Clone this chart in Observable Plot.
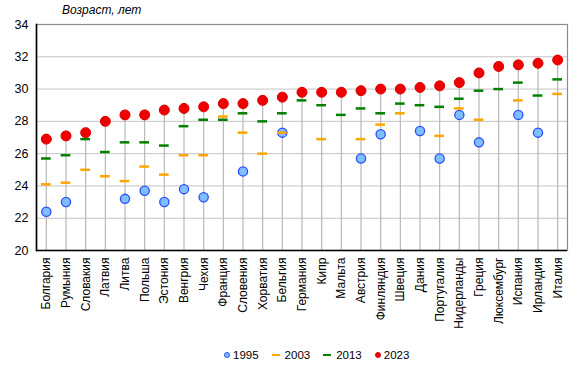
<!DOCTYPE html>
<html><head><meta charset="utf-8">
<script src="https://cdn.jsdelivr.net/npm/d3@7"></script>
<script src="https://cdn.jsdelivr.net/npm/@observablehq/plot@0.6"></script>
<style>
body{margin:0;background:#fff;font-family:"Liberation Sans",Arial,sans-serif;}
#wrap{position:relative;width:580px;height:370px;}
#title{position:absolute;left:62px;top:3px;font-size:12px;font-style:italic;color:#000;}
#legend{position:absolute;top:349px;left:224px;display:flex;align-items:center;font-size:11.5px;color:#000;}
#legend .it{display:flex;align-items:center;margin-right:13px;}
#legend .c{width:6px;height:6px;border-radius:50%;margin-right:3px;box-sizing:border-box;}
#legend .d{width:8px;height:2.5px;margin-right:5px;}
</style></head>
<body><div id="wrap"><div id="chart"></div><div id="title">Возраст, лет</div>
<div id="legend">
<div class="it"><div class="c" style="background:#7fbfff;border:1.5px solid #2a4cff"></div>1995</div>
<div class="it"><div class="d" style="background:#ffa500"></div>2003</div>
<div class="it"><div class="d" style="background:#008000"></div>2013</div>
<div class="it"><div class="c" style="background:#ee0000;border:1px solid #e00000"></div>2023</div>
</div></div>
<script>
const countries = ["Болгария","Румыния","Словакия","Латвия","Литва","Польша","Эстония","Венгрия","Чехия","Франция","Словения","Хорватия","Бельгия","Германия","Кипр","Мальта","Австрия","Финляндия","Швеция","Дания","Португалия","Нидерланды","Греция","Люксембург","Испания","Ирландия","Италия"];
const v1995 = [22.4,23.0,null,null,23.2,23.7,23.0,23.8,23.3,null,24.9,null,27.3,null,null,null,25.7,27.2,null,27.4,25.7,28.4,26.7,null,28.4,27.3,null];
const v2003 = [24.1,24.2,25.0,24.6,24.3,25.2,24.7,25.9,25.9,28.3,27.3,26.0,27.3,null,26.9,null,26.9,27.8,28.5,null,27.1,28.8,28.1,null,29.3,null,29.7];
const v2013 = [25.7,25.9,26.9,26.1,26.7,26.7,26.5,27.7,28.1,28.1,28.5,28.0,28.5,29.3,29.0,28.4,28.8,28.5,29.1,29.0,28.9,29.4,29.9,30.0,30.4,29.6,30.6];
const v2023 = [26.9,27.1,27.3,28.0,28.4,28.4,28.7,28.8,28.9,29.1,29.1,29.3,29.5,29.8,29.8,29.8,29.9,30.0,30.0,30.1,30.2,30.4,31.0,31.4,31.5,31.6,31.8];
const yTicks = [20,22,24,26,28,30,32,34];

const rows = countries.map((c,i)=>({c, a:v1995[i], b:v2003[i], m:v2013[i], d:v2023[i]}));
const chart = Plot.plot({
  width:580, height:345,
  marginLeft:36, marginRight:13, marginTop:24, marginBottom:95,
  style:{fontFamily:"'Liberation Sans',Arial,sans-serif", fontSize:"12px", color:"#000", background:"#fff"},
  x:{type:"band", domain:countries, padding:0, round:false, label:null},
  y:{domain:[20,34], label:null},
  marks:[
    Plot.ruleY(yTicks.slice(1,-1), {stroke:"#c4c4c4", strokeWidth:1}),
    Plot.frame({stroke:"#8c8c8c", strokeWidth:1.2}),
    Plot.ruleX(rows, {x:"c", y1:20, y2:"d", stroke:"#b8b8b8", strokeWidth:1.2}),
    Plot.dot(rows.filter(r=>r.a!=null), {x:"c", y:"a", r:4.6, fill:"#7fbfff", stroke:"#2a4cff", strokeWidth:1.3}),
    Plot.tickY(rows.filter(r=>r.b!=null), {x:"c", y:"b", stroke:"#ffa500", strokeWidth:2.5, insetLeft:5, insetRight:5}),
    Plot.tickY(rows.filter(r=>r.m!=null), {x:"c", y:"m", stroke:"#008000", strokeWidth:2.5, insetLeft:5, insetRight:5}),
    Plot.dot(rows, {x:"c", y:"d", r:5, fill:"#ee0000", stroke:"#dd0000", strokeWidth:1}),
    Plot.ruleY([20], {stroke:"#000", strokeWidth:1.5}),
    Plot.axisY({ticks:yTicks, tickSize:0, tickPadding:8, fontSize:12.5, tickFormat:d=>String(d)}),
    Plot.axisX({tickSize:0, tickPadding:7, tickRotate:-90, fontSize:12}),
    Plot.frame({anchor:"left", stroke:"#000", strokeWidth:1.6})
  ]
});
document.getElementById("chart").appendChild(chart);
</script></body></html>
